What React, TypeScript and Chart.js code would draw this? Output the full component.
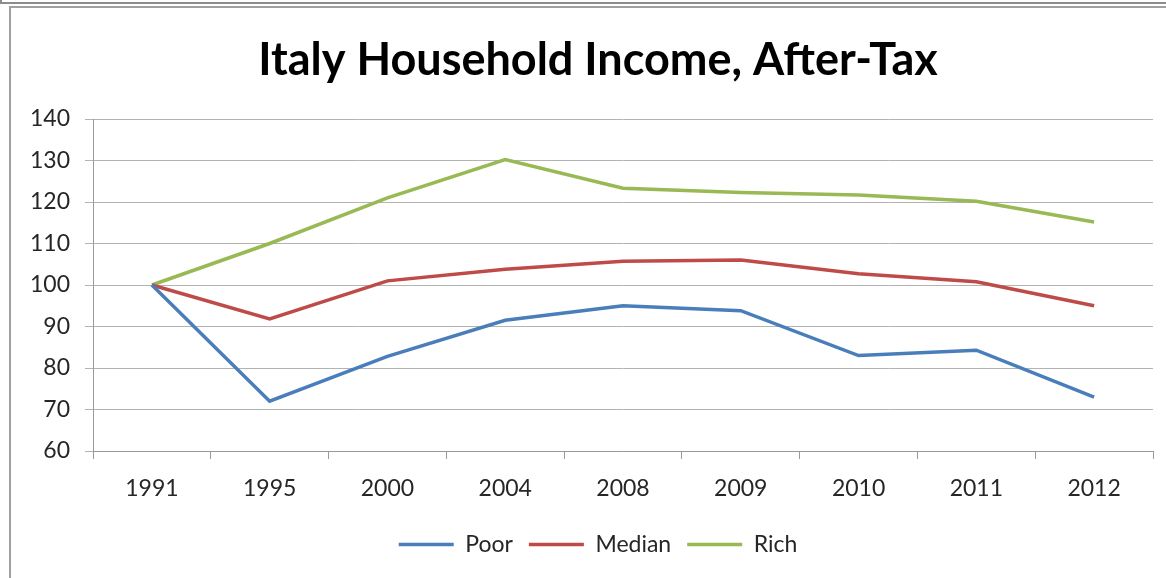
import React, { useEffect, useRef } from "react";
import { Chart, registerables } from "chart.js";

Chart.register(...registerables);

const categories = ["1991", "1995", "2000", "2004", "2008", "2009", "2010", "2011", "2012"];
const poor = [100, 72, 82.8, 91.5, 95, 93.8, 83, 84.3, 73];
const median = [100, 91.8, 101, 103.8, 105.7, 106, 102.7, 100.8, 95];
const rich = [100, 110, 121, 130.2, 123.3, 122.3, 121.7, 120.2, 115.2];
const seriesNames = ["Poor", "Median", "Rich"];
const titleText = "Italy Household Income, After-Tax";

const FONT = "Lato, 'Open Sans', sans-serif";
const CANVAS_W = 1184;

export default function App() {
  const ref = useRef<HTMLCanvasElement | null>(null);

  useEffect(() => {
    if (!ref.current) return;
    const chart = new Chart(ref.current, {
      type: "line",
      data: {
        labels: categories,
        datasets: [
          { label: seriesNames[0], data: poor, borderColor: "#4A7EBB", backgroundColor: "#4A7EBB", borderWidth: 3.5, pointRadius: 0 },
          { label: seriesNames[1], data: median, borderColor: "#BE4B48", backgroundColor: "#BE4B48", borderWidth: 3.5, pointRadius: 0 },
          { label: seriesNames[2], data: rich, borderColor: "#98B954", backgroundColor: "#98B954", borderWidth: 3.5, pointRadius: 0 },
        ],
      },
      options: {
        responsive: false,
        animation: false,
        layout: { padding: { left: 12, right: 0, top: 8, bottom: 12 } },
        plugins: {
          title: {
            display: true,
            text: titleText,
            color: "#000",
            font: { family: FONT, size: 45, weight: "bold" },
            padding: { top: 25, bottom: 32 },
          },
          legend: {
            position: "bottom",
            labels: {
              usePointStyle: true,
              pointStyle: "line",
              pointStyleWidth: 55,
              boxHeight: 22,
              color: "#262626",
              font: { family: FONT, size: 23 },
              padding: 16,
            },
          },
          tooltip: { enabled: false },
        },
        scales: {
          x: {
            offset: true,
            grid: { offset: true, drawOnChartArea: false, drawTicks: true, tickLength: 8, color: "#9a9a9a" },
            border: { color: "#9a9a9a", width: 1 },
            ticks: { color: "#262626", font: { family: FONT, size: 23 }, padding: 16, maxRotation: 0 },
            afterFit: (s: any) => { s.height = 66; },
          },
          y: {
            min: 60,
            max: 140,
            ticks: { stepSize: 10, color: "#262626", font: { family: FONT, size: 23 }, padding: 15 },
            grid: { color: "#b3b3b3", tickLength: 8 },
            border: { color: "#9a9a9a", width: 1 },
            afterFit: (s: any) => { s.width = 81; },
          },
          spacer: {
            type: "linear",
            position: "right",
            display: true,
            grid: { display: false, drawTicks: false },
            ticks: { display: false },
            border: { display: false },
            afterFit: (s: any) => { s.width = CANVAS_W - 1153; },
          },
        },
      },
    });
    return () => chart.destroy();
  }, []);

  return (
    <div style={{ position: "absolute", left: 0, top: 0, width: 1166, height: 578, background: "#fff", overflow: "hidden" }}>
      <canvas ref={ref} width={CANVAS_W} height={578} style={{ position: "absolute", left: 0, top: 0 }} />
      <div style={{ position: "absolute", left: 0, top: 2, width: 1166, height: 2, background: "#8c8c8c" }} />
      <div style={{ position: "absolute", left: 0, top: 0, width: 2, height: 4, background: "#8c8c8c" }} />
      <div style={{ position: "absolute", left: 9, top: 6, width: 1157, height: 2, background: "#a0a0a0" }} />
      <div style={{ position: "absolute", left: 9, top: 6, width: 2, height: 572, background: "#a0a0a0" }} />
    </div>
  );
}
